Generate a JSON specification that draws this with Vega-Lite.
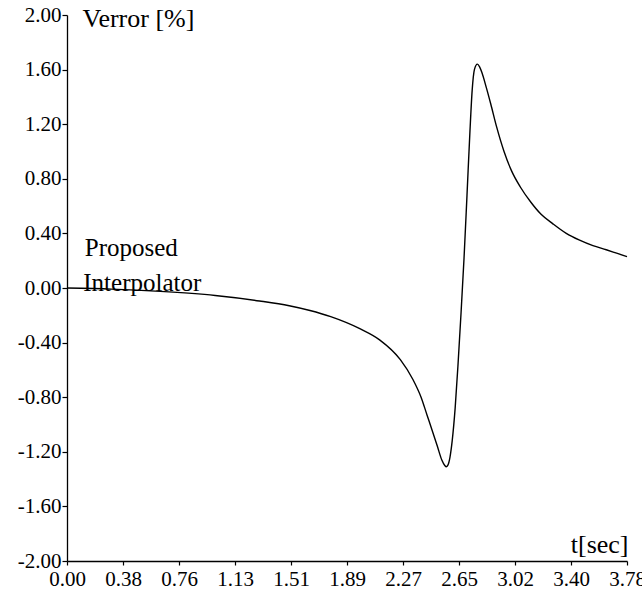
{
  "$schema": "https://vega.github.io/schema/vega-lite/v6.json",
  "autosize": "none",
  "width": 560,
  "height": 546,
  "padding": {"left": 67, "top": 15, "right": 15, "bottom": 39},
  "background": "white",
  "config": {
    "view": {"stroke": null},
    "font": "Liberation Serif",
    "axis": {"grid": false, "domainColor": "black", "tickColor": "black", "labelColor": "black", "titleColor": "black", "labelFont": "Liberation Serif", "titleFont": "Liberation Serif", "titleFontWeight": "normal", "domainWidth": 1.3, "tickWidth": 1.2}
  },
  "datasets": {
    "curve": [
      {"t": 0.00, "v": 0.00},
      {"t": 0.30, "v": -0.008},
      {"t": 0.63, "v": -0.025},
      {"t": 1.00, "v": -0.055},
      {"t": 1.30, "v": -0.095},
      {"t": 1.50, "v": -0.13},
      {"t": 1.64, "v": -0.165},
      {"t": 1.78, "v": -0.21},
      {"t": 1.98, "v": -0.30},
      {"t": 2.11, "v": -0.38},
      {"t": 2.25, "v": -0.525},
      {"t": 2.335, "v": -0.67},
      {"t": 2.39, "v": -0.80},
      {"t": 2.43, "v": -0.93},
      {"t": 2.47, "v": -1.06},
      {"t": 2.50, "v": -1.16},
      {"t": 2.53, "v": -1.26},
      {"t": 2.55, "v": -1.30},
      {"t": 2.56, "v": -1.31},
      {"t": 2.57, "v": -1.30},
      {"t": 2.585, "v": -1.24},
      {"t": 2.60, "v": -1.12},
      {"t": 2.62, "v": -0.88},
      {"t": 2.64, "v": -0.55},
      {"t": 2.66, "v": -0.18},
      {"t": 2.68, "v": 0.22},
      {"t": 2.70, "v": 0.68},
      {"t": 2.72, "v": 1.15},
      {"t": 2.735, "v": 1.45},
      {"t": 2.75, "v": 1.60},
      {"t": 2.77, "v": 1.64},
      {"t": 2.785, "v": 1.62},
      {"t": 2.80, "v": 1.58},
      {"t": 2.83, "v": 1.47},
      {"t": 2.86, "v": 1.35},
      {"t": 2.90, "v": 1.18},
      {"t": 2.95, "v": 1.00},
      {"t": 3.00, "v": 0.86},
      {"t": 3.06, "v": 0.74},
      {"t": 3.13, "v": 0.63},
      {"t": 3.20, "v": 0.54},
      {"t": 3.28, "v": 0.47},
      {"t": 3.37, "v": 0.40},
      {"t": 3.46, "v": 0.35},
      {"t": 3.55, "v": 0.31},
      {"t": 3.64, "v": 0.28},
      {"t": 3.71, "v": 0.255},
      {"t": 3.78, "v": 0.23}
    ],
    "notes": [
      {"t": 0.12, "v": 0.29, "label": "Proposed"},
      {"t": 0.11, "v": 0.035, "label": "Interpolator"}
    ]
  },
  "layer": [
    {
      "data": {"name": "curve"},
      "mark": {"type": "line", "color": "black", "strokeWidth": 1.4, "interpolate": "monotone"},
      "encoding": {
        "x": {
          "field": "t", "type": "quantitative",
          "scale": {"domain": [0, 3.78], "nice": false, "zero": false},
          "axis": {
            "values": [0, 0.378, 0.756, 1.134, 1.512, 1.89, 2.268, 2.646, 3.024, 3.402, 3.78],
            "format": ".2f", "labelFontSize": 21, "tickSize": 4, "labelPadding": 3,
            "labelFlush": false, "labelOverlap": false,
            "title": "t[sec]", "titleFontSize": 26, "titleAngle": 0,
            "titleAlign": "right", "titleBaseline": "middle", "titleX": 561, "titleY": -17
          }
        },
        "y": {
          "field": "v", "type": "quantitative",
          "scale": {"domain": [-2, 2], "nice": false},
          "axis": {
            "values": [-2, -1.6, -1.2, -0.8, -0.4, 0, 0.4, 0.8, 1.2, 1.6, 2],
            "labelExpr": "replace(format(datum.value, '.2f'), '\u2212', '-')",
            "labelFontSize": 21, "tickSize": 5, "labelPadding": 1,
            "labelFlush": false, "labelOverlap": false,
            "title": "Verror [%]", "titleFontSize": 26, "titleAngle": 0,
            "titleAlign": "left", "titleBaseline": "middle", "titleX": 15, "titleY": 3
          }
        }
      }
    },
    {
      "data": {"name": "notes"},
      "mark": {"type": "text", "align": "left", "baseline": "middle", "fontSize": 25, "font": "Liberation Serif", "color": "black"},
      "encoding": {
        "x": {"field": "t", "type": "quantitative"},
        "y": {"field": "v", "type": "quantitative"},
        "text": {"field": "label"}
      }
    }
  ]
}
